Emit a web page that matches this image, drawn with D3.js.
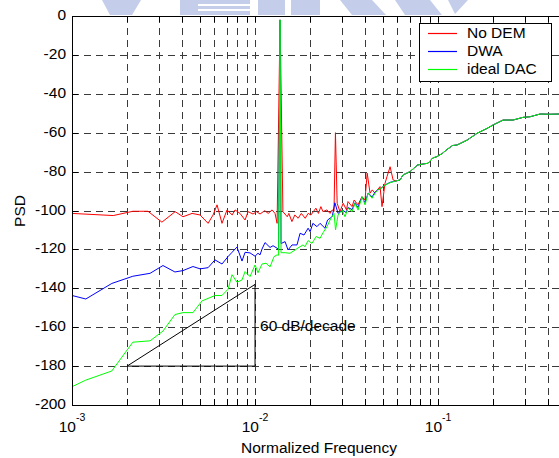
<!DOCTYPE html>
<html>
<head>
<meta charset="utf-8">
<script src="https://cdn.jsdelivr.net/npm/d3@7"></script>
<style>
body { margin: 0; background: #fff; }
svg { display: block; font-family: "Liberation Sans", Arial, sans-serif; }
</style>
</head>
<body>
<div id="chart"></div>
<script>
// PSD readings, [normalized frequency, dB]
var noDem = [[0.001,-101.5],[0.00168,-102.6],[0.00215,-100.4],[0.0026,-100.4],[0.0031,-106],[0.00366,-100.6],[0.00404,-103.2],[0.00453,-101.5],[0.00501,-102.3],[0.00554,-106.6],[0.0059,-102.3],[0.0062,-97.1],[0.0066,-106.6],[0.00703,-99.7],[0.0075,-102.3],[0.00778,-99.7],[0.00828,-101.5],[0.00882,-104.9],[0.00916,-100.6],[0.00975,-101.8],[0.0102,-100.6],[0.01065,-101.8],[0.0113,-100.1],[0.0118,-101.5],[0.01239,-99.7],[0.01286,-101.5],[0.0132,-106.6],[0.0137,-2],[0.0142,-100.6],[0.015,-103.2],[0.0153,-101.5],[0.0159,-105.7],[0.0165,-102.3],[0.0172,-104],[0.0179,-101.5],[0.0188,-104],[0.0195,-101.5],[0.0202,-102.3],[0.0215,-98.8],[0.0222,-101.5],[0.0229,-98],[0.0235,-100.6],[0.0247,-99.7],[0.0257,-101.5],[0.0264,-99.7],[0.027,-100.6],[0.0275,-60],[0.0281,-96.3],[0.0291,-100.6],[0.0303,-96.3],[0.0316,-99.7],[0.0322,-95.4],[0.0339,-98],[0.0348,-94.6],[0.0365,-97.1],[0.0384,-92.9],[0.0399,-94.6],[0.041,-80.8],[0.0425,-91.1],[0.0437,-89.4],[0.0452,-91.1],[0.0482,-87.7],[0.0494,-98],[0.0513,-86],[0.0526,-82.6],[0.0547,-77.5],[0.0568,-84.3],[0.059,-84.8]];

var dwa = [[0.001,-143.7],[0.00119,-145.5],[0.00165,-137.5],[0.00215,-133.8],[0.00267,-132.3],[0.00314,-128.3],[0.00365,-131.6],[0.00404,-130.9],[0.00458,-128.8],[0.00501,-130],[0.00554,-129.4],[0.00604,-125.4],[0.0066,-127.5],[0.00712,-123.7],[0.00749,-121.5],[0.00797,-118.8],[0.00849,-126],[0.00882,-121.5],[0.00939,-121.8],[0.01,-123.5],[0.01038,-122],[0.01065,-122.8],[0.01092,-119.8],[0.01134,-116.5],[0.01208,-119],[0.01254,-118.1],[0.0132,-119.4],[0.01345,-120],[0.0137,-2],[0.01387,-117],[0.01459,-116],[0.01515,-120.3],[0.01593,-117.7],[0.01696,-117.7],[0.01762,-111.7],[0.01852,-112.6],[0.0195,-109.1],[0.02,-110.9],[0.0207,-106.6],[0.0218,-108.3],[0.02266,-106.6],[0.0241,-109.1],[0.0249,-104.9],[0.0264,-103.2],[0.0273,-96],[0.02842,-101.5],[0.0299,-99.8],[0.0315,-101],[0.0322,-98.5],[0.0339,-99.5],[0.0352,-96],[0.0365,-98.5],[0.0384,-93],[0.0399,-96],[0.0415,-91],[0.0436,-93],[0.0453,-90.5],[0.047,-89.4],[0.0488,-88.5],[0.0513,-86.9],[0.0547,-85.5],[0.059,-84.8]];

var idealDac = [[0.001,-190.6],[0.00119,-187.2],[0.00165,-182.5],[0.00215,-167.7],[0.00267,-167],[0.00314,-162],[0.00365,-153.5],[0.00404,-152.5],[0.00458,-152.5],[0.00513,-146.5],[0.00604,-143.7],[0.0066,-143.7],[0.00712,-140.5],[0.00749,-133],[0.00797,-136.9],[0.00849,-135.7],[0.00882,-131.4],[0.00939,-134],[0.01,-128],[0.01038,-132],[0.01092,-127.5],[0.01148,-127.1],[0.01208,-129],[0.0127,-123.7],[0.01319,-122.8],[0.01345,-123],[0.0137,-2],[0.01387,-121.7],[0.0146,-121.7],[0.01553,-122],[0.01654,-120.3],[0.01762,-118.6],[0.01829,-117.7],[0.01876,-118.6],[0.01948,-115.5],[0.02049,-116.9],[0.02154,-113.4],[0.02266,-114.3],[0.02353,-111.4],[0.02474,-108.3],[0.02569,-104.9],[0.02702,-101.5],[0.02754,-110],[0.02842,-102.3],[0.02989,-99.8],[0.03103,-103.2],[0.03223,-98.8],[0.03389,-100.6],[0.03519,-96.3],[0.03654,-99.8],[0.03843,-92.9],[0.03991,-97.1],[0.04145,-91.1],[0.04359,-93.7],[0.04526,-91.1],[0.047,-89.4],[0.0488,-88.6],[0.05133,-86.9],[0.05466,-85.7],[0.05895,-84.8]];

// above ~0.06 the three curves lie on top of each other
var highBand = [[0.06198,-84.3],[0.06436,-81.7],[0.0703,-80],[0.0773,-76.6],[0.0828,-76.1],[0.0882,-75.7],[0.0935,-73],[0.0987,-72.3],[0.106,-70.5],[0.112,-68.6],[0.12,-66.6],[0.127,-66.3],[0.1441,-63.8],[0.1634,-60.3],[0.1853,-57.8],[0.1998,-56],[0.2266,-53.5],[0.2569,-53.5],[0.2914,-52.1],[0.3182,-51.8],[0.3609,-50.4],[0.4093,-50.5],[0.4583,-50.4],[0.5,-50.3]];

var seriesNames = ["No DEM", "DWA", "ideal DAC"];
var seriesColors = ["#ff0000", "#0000ff", "#00ff00"];
var yTicks = [0, -20, -40, -60, -80, -100, -120, -140, -160, -180, -200];
var xDecades = [0.001, 0.01, 0.1];
var xDecadeExp = ["-3", "-2", "-1"];
var slopeTriangle = [[0.002,-180],[0.01,-138],[0.01,-180],[0.002,-180]];
var slopeLabel = "60 dB/decade";

var width = 559, height = 458;
var plot = {left: 72, top: 16, right: 566, bottom: 405};

var x = d3.scaleLog().domain([0.001, 0.5]).range([plot.left, plot.right]);
var y = d3.scaleLinear().domain([-200, 0]).range([plot.bottom, plot.top]);

var svg = d3.select("#chart")
    .append("svg")
    .attr("width", width)
    .attr("height", height);

// faint watermark at top
var wm = svg.append("g").attr("fill", "#c4ceea");
wm.append("polygon").attr("points", "102,0 141,0 132,15 110,15");
wm.append("rect").attr("x", 180).attr("y", 0).attr("width", 70).attr("height", 15);
wm.append("rect").attr("x", 258).attr("y", 0).attr("width", 62).attr("height", 15);
wm.append("polygon").attr("points", "340,0 372,0 386,15 352,15");
wm.append("polygon").attr("points", "395,0 430,0 442,15 405,15");
wm.append("polygon").attr("points", "448,0 468,0 455,14");
var wmGaps = svg.append("g").attr("fill", "#fff");
wmGaps.append("rect").attr("x", 198).attr("y", 4).attr("width", 52).attr("height", 2);
wmGaps.append("rect").attr("x", 198).attr("y", 9).attr("width", 52).attr("height", 2);
wmGaps.append("rect").attr("x", 285).attr("y", 0).attr("width", 6).attr("height", 15);

svg.append("defs").append("clipPath").attr("id", "clip")
    .append("rect")
    .attr("x", plot.left).attr("y", plot.top)
    .attr("width", plot.right - plot.left).attr("height", plot.bottom - plot.top);

// grid
var grid = svg.append("g")
    .attr("stroke", "#3a3a3a")
    .attr("stroke-width", 1)
    .attr("stroke-dasharray", "7,5")
    .attr("shape-rendering", "crispEdges");

grid.selectAll(".vg")
    .data(x.ticks().filter(function (d) { return d > 0.001; }))
    .enter().append("line")
    .attr("x1", function (d) { return Math.round(x(d)) + 0.5; })
    .attr("x2", function (d) { return Math.round(x(d)) + 0.5; })
    .attr("y1", plot.top)
    .attr("y2", plot.bottom);

grid.selectAll(".hg")
    .data(yTicks.filter(function (d) { return d > -200 && d < 0; }))
    .enter().append("line")
    .attr("x1", plot.left)
    .attr("x2", width)
    .attr("y1", function (d) { return Math.round(y(d)) + 0.5; })
    .attr("y2", function (d) { return Math.round(y(d)) + 0.5; });

// curves
var line = d3.line()
    .x(function (d) { return x(d[0]); })
    .y(function (d) { return y(d[1]); });

var curves = [noDem, dwa, idealDac];
svg.append("g")
    .attr("clip-path", "url(#clip)")
    .selectAll("path")
    .data(curves)
    .enter().append("path")
    .attr("d", function (d) { return line(d.concat(highBand)); })
    .attr("fill", "none")
    .attr("stroke", function (d, i) { return seriesColors[i]; })
    .attr("stroke-width", 1);

// slope triangle
svg.append("path")
    .attr("d", line(slopeTriangle))
    .attr("fill", "none")
    .attr("stroke", "#000")
    .attr("stroke-width", 1);

svg.append("text")
    .attr("x", x(0.01) + 5)
    .attr("y", y(-160))
    .attr("dominant-baseline", "middle")
    .style("font-size", "15.5px")
    .text(slopeLabel);

// axes box
var axes = svg.append("g")
    .attr("stroke", "#000")
    .attr("stroke-width", 1)
    .attr("shape-rendering", "crispEdges");
axes.append("line").attr("x1", plot.left + 0.5).attr("x2", plot.left + 0.5).attr("y1", plot.top).attr("y2", plot.bottom + 1);
axes.append("line").attr("x1", plot.left).attr("x2", width).attr("y1", plot.top + 0.5).attr("y2", plot.top + 0.5);
axes.append("line").attr("x1", plot.left).attr("x2", width).attr("y1", plot.bottom + 0.5).attr("y2", plot.bottom + 0.5);

axes.selectAll(".yt")
    .data(yTicks)
    .enter().append("line")
    .attr("x1", plot.left)
    .attr("x2", plot.left + 6)
    .attr("y1", function (d) { return Math.round(y(d)) + 0.5; })
    .attr("y2", function (d) { return Math.round(y(d)) + 0.5; });

var xt = x.ticks().filter(function (d) { return d > 0.001; });
axes.selectAll(".xtb")
    .data(xt)
    .enter().append("line")
    .attr("x1", function (d) { return Math.round(x(d)) + 0.5; })
    .attr("x2", function (d) { return Math.round(x(d)) + 0.5; })
    .attr("y1", plot.bottom)
    .attr("y2", plot.bottom - 6);
axes.selectAll(".xtt")
    .data(xt)
    .enter().append("line")
    .attr("x1", function (d) { return Math.round(x(d)) + 0.5; })
    .attr("x2", function (d) { return Math.round(x(d)) + 0.5; })
    .attr("y1", plot.top)
    .attr("y2", plot.top + 6);

// tick labels
svg.selectAll(".ylab")
    .data(yTicks)
    .enter().append("text")
    .attr("x", plot.left - 6)
    .attr("y", function (d) { return y(d); })
    .attr("text-anchor", "end")
    .attr("dominant-baseline", "middle")
    .style("font-size", "15.5px")
    .text(function (d) { return d; });

var xl = svg.selectAll(".xlab")
    .data(xDecades)
    .enter().append("text")
    .attr("x", function (d) { return x(d); })
    .attr("y", 432)
    .attr("text-anchor", "middle")
    .style("font-size", "15.5px");
xl.append("tspan").text("10");
xl.append("tspan")
    .attr("dy", -11)
    .style("font-size", "10.5px")
    .text(function (d, i) { return xDecadeExp[i]; });

// axis titles
svg.append("text")
    .attr("x", 319)
    .attr("y", 453)
    .attr("text-anchor", "middle")
    .style("font-size", "15.5px")
    .text("Normalized Frequency");

svg.append("text")
    .attr("transform", "translate(25,211)rotate(-90)")
    .attr("text-anchor", "middle")
    .style("font-size", "15.5px")
    .text("PSD");

// legend
var legend = svg.append("g");
legend.append("rect")
    .attr("x", 419.5).attr("y", 23.5)
    .attr("width", 132).attr("height", 58)
    .attr("fill", "#fff")
    .attr("stroke", "#000")
    .attr("stroke-width", 1);

var rowY = [33.5, 51.5, 69.5];
seriesNames.forEach(function (name, i) {
    legend.append("line")
        .attr("x1", 428).attr("x2", 457)
        .attr("y1", rowY[i]).attr("y2", rowY[i])
        .style("stroke", seriesColors[i])
        .style("stroke-width", "1.2px");
    legend.append("text")
        .attr("x", 467)
        .attr("y", rowY[i] + 0.5)
        .attr("dominant-baseline", "middle")
        .style("font-size", "15.5px")
        .text(name);
});
</script>
</body>
</html>
